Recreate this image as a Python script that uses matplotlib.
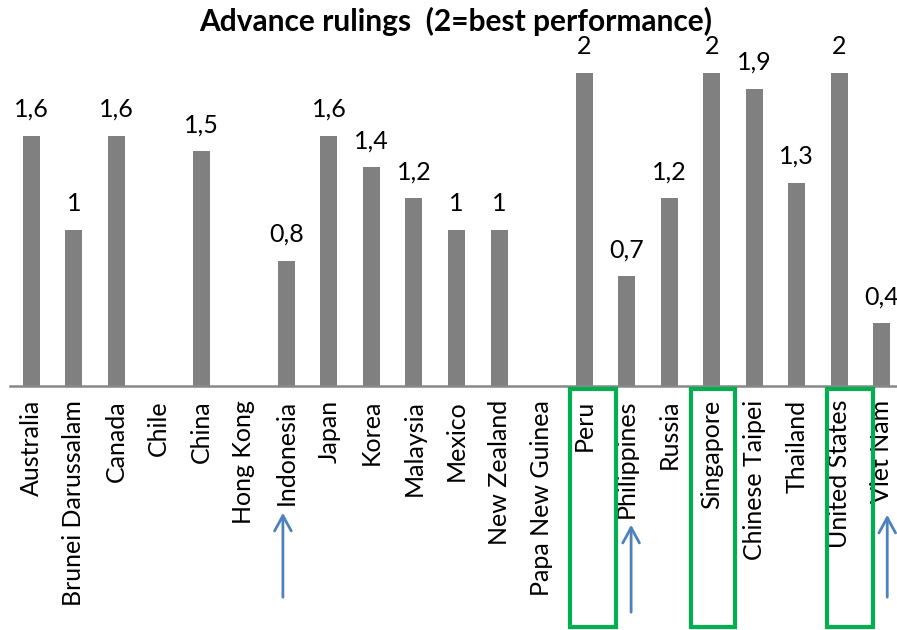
import matplotlib
matplotlib.use("Agg")
import matplotlib.pyplot as plt
import matplotlib.transforms as mtransforms
import numpy as np

categories = ["Australia", "Brunei Darussalam", "Canada", "Chile", "China", "Hong Kong",
              "Indonesia", "Japan", "Korea", "Malaysia", "Mexico", "New Zealand",
              "Papa New Guinea", "Peru", "Philippines", "Russia", "Singapore",
              "Chinese Taipei", "Thailand", "United States", "Viet Nam"]
values = [1.6, 1.0, 1.6, None, 1.5, None, 0.8, 1.6, 1.4, 1.2, 1.0, 1.0, None,
          2.0, 0.7, 1.2, 2.0, 1.9, 1.3, 2.0, 0.4]
value_labels = ["1,6", "1", "1,6", "", "1,5", "", "0,8", "1,6", "1,4", "1,2", "1", "1",
                "", "2", "0,7", "1,2", "2", "1,9", "1,3", "2", "0,4"]
boxed = ["Peru", "Singapore", "United States"]
arrowed = ["Indonesia", "Philippines", "Viet Nam"]
title = "Advance rulings  (2=best performance)"

plt.rcParams['font.family'] = ['Lato', 'DejaVu Sans']

W, H = 897, 630
fig = plt.figure(figsize=(W / 100, H / 100), dpi=100)
ax = fig.add_axes([10 / W, (H - 386) / H, 893 / W, 313 / H])

x = np.arange(len(categories))
heights = [v if v is not None else 0 for v in values]
ax.bar(x, heights, width=0.4, color="#808080", zorder=2)
for xi, v, lab in zip(x, values, value_labels):
    if v is None:
        continue
    ax.annotate(lab, (xi, v), xytext=(0, 13.5), textcoords="offset points",
                ha="center", va="baseline", fontsize=18, color="black",
                annotation_clip=False)

ax.set_xlim(-0.5, len(categories) - 0.5)
ax.set_ylim(0, 2)
ax.set_xticks(x)
ax.set_xticklabels(categories, rotation=90, fontsize=18, ha="center", va="top")
ax.tick_params(axis="x", length=0, pad=10)
ax.set_yticks([])
for s in ["top", "right", "left"]:
    ax.spines[s].set_visible(False)
ax.spines["bottom"].set_color("#888888")
ax.spines["bottom"].set_linewidth(1.8)

fig.text(456 / W, 1 - 21 / H, title, ha="center", va="center",
         fontsize=21.5, fontweight="bold")

# green boxes (x in data, y in figure pixels)
trans = mtransforms.blended_transform_factory(ax.transData, fig.transFigure)
px = 893 / 21  # pixels per category
box_offsets = {"Peru": 8.5, "Singapore": 1.5, "United States": 11.0}
box_widths = {"Peru": 46, "Singapore": 44, "United States": 46}
for name in boxed:
    i = categories.index(name)
    cx = i + box_offsets[name] / px
    w = box_widths[name] / px
    rect = plt.Rectangle((cx - w / 2, 1 - 627 / H), w, (627 - 389) / H,
                         transform=trans, fill=False, edgecolor="#00B050",
                         linewidth=3, clip_on=False)
    fig.add_artist(rect)

# blue arrows: (x offset px, tail y px, tip y px)
arrow_geom = {"Indonesia": (-3.5, 600, 510), "Philippines": (4.5, 615, 522),
              "Viet Nam": (5.5, 600, 512)}
for name in arrowed:
    i = categories.index(name)
    dx, ytail, ytip = arrow_geom[name]
    xa = i + dx / px
    ax.annotate("", xy=(xa, 1 - ytip / H), xytext=(xa, 1 - ytail / H),
                xycoords=trans, textcoords=trans,
                arrowprops=dict(arrowstyle="->,head_length=1.1,head_width=0.6",
                                color="#4F81BD", lw=2),
                annotation_clip=False)

fig.savefig("out.png", dpi=100)
